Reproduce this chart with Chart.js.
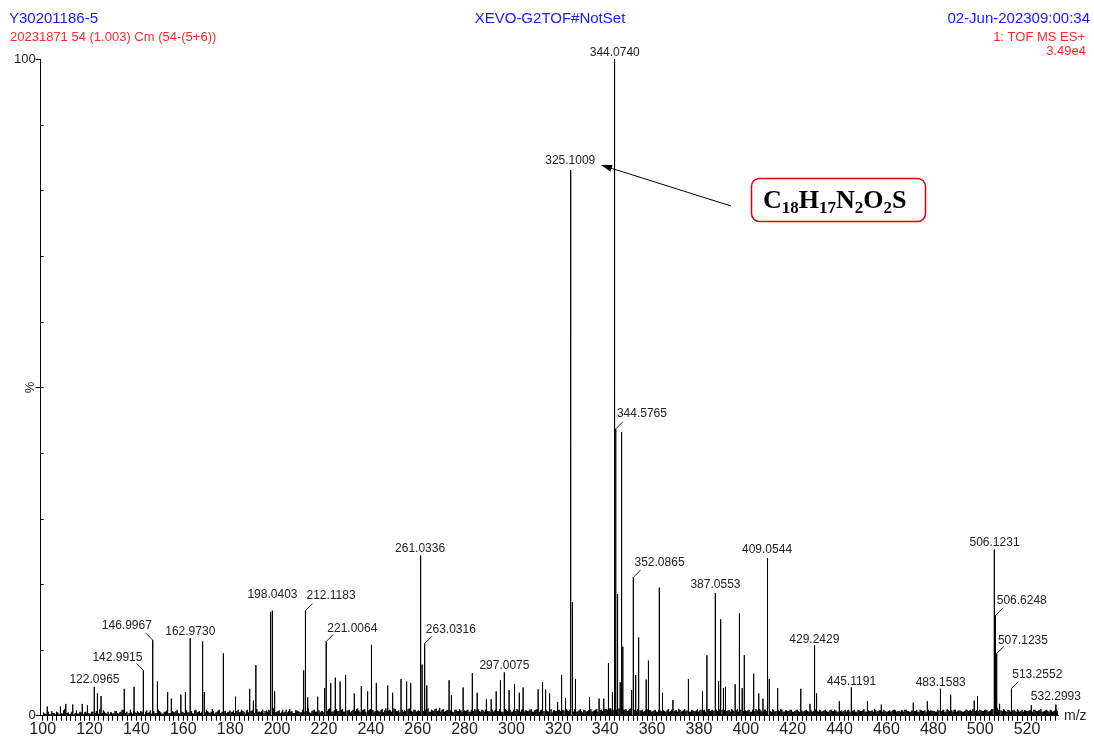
<!DOCTYPE html>
<html>
<head>
<meta charset="utf-8">
<script src="https://cdn.jsdelivr.net/npm/chart.js@4.4.1/dist/chart.umd.min.js"></script>
<style>
  html, body { margin: 0; padding: 0; background: #fff; }
  #wrap { width: 1094px; height: 738px; position: relative; }
</style>
</head>
<body>
<div id="wrap"><canvas id="msChart"></canvas></div>
<script>
// labelled peaks (m/z, relative intensity %)
const labeledMz = [122.0965, 142.9915, 146.9967, 162.9730, 198.0403, 212.1183, 221.0064, 261.0336,
    263.0316, 297.0075, 325.1009, 344.0740, 344.5765, 352.0865, 387.0553, 409.0544,
    429.2429, 445.1191, 483.1583, 506.1231, 506.6248, 507.1235, 513.2552, 532.2993];
const labeledInt = [4.4, 6.9, 11.5, 11.8, 16.0, 16.0, 11.3, 24.4,
    11.0, 6.6, 83.1, 100, 43.7, 21.1, 18.7, 24.0,
    10.7, 4.3, 4.1, 25.3, 15.3, 9.5, 4.1, 1.7];

// unlabelled peaks
const minorMz = [102.0, 107.7, 109.8, 112.7, 116.9, 119.1, 123.3, 124.9, 134.7, 139.0, 149.0, 153.2,
    154.9, 159.0, 160.9, 168.0, 169.0, 177.1, 182.1, 188.2, 189.9, 191.0, 197.0, 199.0,
    211.3, 213.2, 217.2, 220.1, 222.9, 224.8, 226.9, 229.0, 233.0, 236.0, 238.8, 240.1,
    242.3, 247.2, 249.2, 252.9, 255.1, 257.1, 261.9, 263.9, 273.4, 274.4, 279.4, 283.2,
    285.4, 289.2, 291.3, 293.5, 295.2, 299.0, 301.2, 303.3, 305.0, 311.4, 313.1, 314.7,
    316.1, 319.7, 321.4, 323.2, 326.1, 327.2, 333.2, 337.4, 339.4, 341.4, 343.1, 345.1,
    346.4, 347.07, 347.6, 351.1, 353.1, 354.1, 357.5, 358.5, 363.1, 364.5, 368.9, 375.6,
    381.6, 383.4, 388.4, 389.1, 390.5, 391.2, 395.5, 397.1, 398.5, 399.3, 403.3, 405.6,
    407.3, 410.1, 413.7, 423.5, 427.4, 430.2, 439.9, 451.9, 457.7, 471.5, 477.5, 487.4,
    497.5, 498.8, 508.1, 521.7];
const minorInt = [1.4, 1.4, 1.8, 1.7, 1.8, 1.6, 3.4, 3.0, 4.1, 4.4, 5.2, 3.6,
    2.6, 3.2, 3.6, 11.3, 3.6, 9.5, 2.9, 4.1, 2.3, 7.7, 15.8, 3.7,
    6.9, 2.8, 2.9, 4.2, 5.0, 5.8, 5.2, 6.2, 3.4, 4.5, 3.7, 10.8,
    5.0, 4.6, 3.5, 5.6, 5.2, 5.0, 7.8, 4.6, 5.4, 3.1, 4.3, 6.5,
    3.5, 2.5, 2.5, 3.7, 5.4, 3.9, 4.8, 3.5, 4.3, 4.0, 5.1, 4.0,
    3.4, 2.1, 6.2, 2.7, 17.3, 5.6, 2.8, 2.6, 2.6, 8.0, 3.6, 18.5,
    5.1, 43.2, 10.5, 3.9, 6.2, 11.9, 5.5, 8.4, 19.5, 3.5, 2.4, 5.6,
    3.7, 9.2, 5.3, 14.7, 4.2, 4.4, 4.8, 15.6, 4.2, 9.2, 6.4, 3.4,
    2.6, 5.6, 4.2, 4.1, 1.8, 3.4, 2.2, 2.2, 1.7, 2.0, 2.2, 3.2,
    2.3, 3.0, 1.8, 1.6];

// baseline noise, two sticks per m/z unit (A at +0.4, B at +0.9), in tenths of a percent
const noiseStartA = 100.4;
const noiseA = [
    5,3,6,2,4,2,5,9,3,10,4,2,6,2,8,3,5,2,6,4,
    3,6,4,5,10,4,6,3,2,5,4,7,3,6,8,4,2,9,3,5,
    7,4,6,2,8,5,3,7,4,9,5,3,6,10,4,7,5,9,3,6,
    4,8,5,7,3,9,6,4,8,5,7,4,10,3,6,9,5,7,4,6,
    5,8,4,9,6,7,3,9,5,8,4,10,6,7,4,8,9,6,11,5,
    7,4,9,6,5,10,7,4,8,6,5,9,7,11,4,8,6,12,5,7,
    9,7,11,6,8,10,7,9,6,10,8,5,9,7,11,6,8,10,7,9,
    8,6,10,7,9,5,11,7,8,6,10,7,5,9,8,6,11,7,9,6,
    8,10,7,9,11,6,8,10,7,12,9,6,8,7,10,5,9,7,8,6,
    7,9,6,8,10,5,7,9,6,8,7,10,6,9,7,8,6,10,7,9,
    6,8,10,7,9,5,8,7,10,6,9,7,8,6,10,7,9,5,8,7,
    9,6,8,10,7,9,6,8,7,10,5,8,7,9,6,8,10,7,9,8,
    10,8,11,9,12,10,8,11,9,7,10,8,9,7,10,8,6,9,7,8,
    7,9,6,8,10,7,8,6,9,7,8,10,6,8,7,9,6,8,7,10,
    8,7,9,6,10,8,7,9,11,8,7,10,8,6,9,7,10,8,6,9,
    7,9,6,8,10,7,8,6,9,8,7,10,6,8,7,9,6,8,7,9,
    6,8,7,9,6,8,7,10,6,8,7,9,6,8,7,6,9,7,8,6,
    7,6,9,8,6,7,9,6,8,7,10,6,8,7,6,9,7,8,6,7,
    6,8,7,9,6,7,8,6,9,7,6,8,7,6,9,7,8,6,7,8,
    7,6,8,7,9,6,8,7,6,9,7,8,6,7,9,8,7,10,8,7,
    8,7,9,6,8,10,9,11,8,7,9,6,8,7,9,6,8,7,6,8,
    7,8,6,9,7,8,6,7,9,6,8,7,9,6];
const noiseStartB = 100.9;
const noiseB = [
    3,5,2,7,4,6,3,4,8,2,5,3,7,4,3,6,2,5,4,3,
    6,4,7,3,5,8,4,6,5,3,7,4,5,9,3,6,4,5,7,4,
    5,7,3,6,4,8,6,4,5,7,3,6,8,4,5,6,7,4,6,5,
    7,5,6,4,8,5,7,6,4,9,5,6,7,5,8,4,6,7,5,8,
    6,4,7,5,9,6,8,5,7,4,8,6,5,9,7,6,8,5,7,6,
    8,6,5,9,7,6,4,8,7,5,9,6,8,5,7,9,6,8,7,5,
    7,10,8,6,9,7,8,10,6,8,9,7,6,10,8,7,9,6,8,10,
    9,7,8,6,10,8,7,9,6,11,7,8,9,6,7,10,8,6,9,7,
    7,9,10,8,6,9,7,11,8,6,10,7,9,8,6,9,7,10,6,8,
    8,6,9,7,8,10,6,8,9,7,6,9,8,7,10,6,9,8,7,6,
    9,7,8,6,10,8,7,9,6,8,10,6,9,7,8,6,10,8,7,9,
    7,9,6,8,9,7,10,6,8,7,9,6,8,10,7,9,6,8,7,10,
    9,11,8,10,9,11,12,9,10,8,11,9,7,10,8,9,7,10,8,6,
    8,6,9,7,8,6,10,7,9,8,6,9,7,10,8,6,9,7,8,6,
    9,8,6,10,7,9,8,7,10,9,8,7,9,10,7,8,6,9,7,8,
    8,6,9,7,8,10,6,9,7,8,6,9,7,8,10,6,8,7,9,6,
    7,9,6,8,7,9,6,8,7,10,6,8,7,9,6,8,7,9,6,8,
    8,7,6,9,7,8,6,9,7,8,6,9,7,8,10,6,8,7,9,6,
    7,6,9,8,7,6,8,9,7,6,8,7,9,6,8,7,6,9,8,7,
    6,9,7,8,6,10,7,8,9,6,8,7,6,9,7,8,10,7,6,9,
    7,9,8,7,10,6,12,9,8,10,7,9,6,8,7,10,6,9,8,7,
    8,6,9,7,8,10,6,8,7,9,6,8,7,9];

// header texts
const sampleName = 'Y30201186-5';
const instrument = 'XEVO-G2TOF#NotSet';
const dateTime = '02-Jun-202309:00:34';
const scanInfo = '20231871 54 (1.003) Cm (54-(5+6))';
const functionInfo = '1: TOF MS ES+';
const maxIntensity = '3.49e4';
const formulaParts = [['C', 0], ['18', 1], ['H', 0], ['17', 1], ['N', 0], ['2', 1], ['O', 0], ['2', 1], ['S', 0]];

// label placement: c = centred above, r = leader to the right, l = leader to the left
const labelSide = ['c','l','l','c','c','r','r','c','r','c','c','c','r','r','c','c','c','c','c','c','r','r','r','c'];
const labelLift = [7,13,15,7,16,15,13,7,14,7,9,6,15,14,8,8,6,6,6,7,15,13,14,8];

// build stick spectrum
const sticks = [];
labeledMz.forEach((m, i) => sticks.push([m, labeledInt[i]]));
minorMz.forEach((m, i) => sticks.push([m, minorInt[i]]));
noiseA.forEach((h, i) => sticks.push([noiseStartA + i, h / 10]));
noiseB.forEach((h, i) => sticks.push([noiseStartB + i, h / 10]));
sticks.sort((a, b) => a[0] - b[0]);
const spectrum = [];
sticks.forEach(([m, h]) => {
    spectrum.push({x: m, y: 0}, {x: m, y: h}, {x: m, y: 0});
});

const BLUE = '#1a1aff';
const RED = '#ff2626';
const TXT = '#222';
const sans = "'Liberation Sans', Arial, sans-serif";

const decorPlugin = {
    id: 'decor',
    afterDraw(chart) {
        const ctx = chart.ctx;
        const xs = chart.scales.x, ys = chart.scales.y;
        const area = chart.chartArea;
        ctx.save();

        // header
        ctx.textBaseline = 'middle';
        ctx.font = '15px ' + sans;
        ctx.fillStyle = BLUE;
        ctx.textAlign = 'left';
        ctx.fillText(sampleName, 9, 19);
        ctx.textAlign = 'center';
        ctx.fillText(instrument, 550, 19);
        ctx.textAlign = 'right';
        ctx.fillText(dateTime, 1090, 19);
        ctx.font = '13px ' + sans;
        ctx.fillStyle = RED;
        ctx.textAlign = 'left';
        ctx.fillText(scanInfo, 10, 37);
        ctx.textAlign = 'right';
        ctx.fillText(functionInfo, 1085, 37);
        ctx.fillText(maxIntensity, 1086, 51);

        // inner minor ticks on y axis
        ctx.strokeStyle = '#000';
        ctx.lineWidth = 1;
        for (let v = 10; v < 100; v += 10) {
            const y = Math.round(ys.getPixelForValue(v)) + 0.5;
            ctx.beginPath();
            ctx.moveTo(area.left, y);
            ctx.lineTo(area.left + 3, y);
            ctx.stroke();
        }

        // axis captions
        ctx.fillStyle = TXT;
        ctx.font = '13px ' + sans;
        ctx.save();
        ctx.translate(30, ys.getPixelForValue(50));
        ctx.rotate(-Math.PI / 2);
        ctx.textAlign = 'center';
        ctx.fillText('%', 0, 0);
        ctx.restore();
        ctx.textAlign = 'left';
        ctx.font = '14px ' + sans;
        ctx.fillText('m/z', area.right + 6, area.bottom);

        // peak labels
        ctx.font = '12px ' + sans;
        ctx.fillStyle = TXT;
        ctx.strokeStyle = '#222';
        labeledMz.forEach((m, i) => {
            const px = xs.getPixelForValue(m);
            const py = ys.getPixelForValue(labeledInt[i]);
            const text = m.toFixed(4);
            const side = labelSide[i];
            const lift = labelLift[i];
            if (side === 'c') {
                ctx.textAlign = 'center';
                ctx.fillText(text, px, py - lift);
            } else {
                const dir = side === 'r' ? 1 : -1;
                ctx.beginPath();
                ctx.moveTo(px, py);
                ctx.lineTo(px + dir * 7, py - 7);
                ctx.stroke();
                ctx.textAlign = side === 'r' ? 'left' : 'right';
                ctx.fillText(text, px + dir, py - lift);
            }
        });

        // formula box with arrow to the 325 peak label
        ctx.strokeStyle = '#e00000';
        ctx.lineWidth = 1.5;
        ctx.beginPath();
        ctx.roundRect(751.5, 178.5, 174, 43, 8);
        ctx.stroke();
        ctx.fillStyle = '#000';
        ctx.textAlign = 'left';
        ctx.textBaseline = 'alphabetic';
        let fx = 763;
        formulaParts.forEach(([t, sub]) => {
            ctx.font = sub ? "bold 17px 'Liberation Serif', 'Times New Roman', serif"
                           : "bold 26px 'Liberation Serif', 'Times New Roman', serif";
            ctx.fillText(t, fx, sub ? 213 : 208);
            fx += ctx.measureText(t).width;
        });

        const ax0 = 731, ay0 = 206, ax1 = 601, ay1 = 165;
        const ang = Math.atan2(ay1 - ay0, ax1 - ax0);
        ctx.strokeStyle = '#000';
        ctx.lineWidth = 1;
        ctx.beginPath();
        ctx.moveTo(ax0, ay0);
        ctx.lineTo(ax1 - 8 * Math.cos(ang), ay1 - 8 * Math.sin(ang));
        ctx.stroke();
        ctx.beginPath();
        ctx.moveTo(ax1, ay1);
        ctx.lineTo(ax1 - 11 * Math.cos(ang) + 3.5 * Math.sin(ang), ay1 - 11 * Math.sin(ang) - 3.5 * Math.cos(ang));
        ctx.lineTo(ax1 - 11 * Math.cos(ang) - 3.5 * Math.sin(ang), ay1 - 11 * Math.sin(ang) + 3.5 * Math.cos(ang));
        ctx.closePath();
        ctx.fill();

        ctx.restore();
    }
};

const bigTicks = [0, 50, 100];

new Chart(document.getElementById('msChart').getContext('2d'), {
    type: 'line',
    data: {
        datasets: [{
            data: spectrum,
            borderColor: '#000',
            borderWidth: 1,
            borderJoinStyle: 'bevel',
            pointRadius: 0,
            tension: 0,
            fill: false
        }]
    },
    options: {
        responsive: true,
        maintainAspectRatio: false,
        animation: false,
        events: [],
        layout: { padding: { top: 59, left: 14, right: 36, bottom: 0 } },
        plugins: { legend: { display: false }, tooltip: { enabled: false } },
        scales: {
            x: {
                type: 'linear',
                min: 99.15,
                max: 533.2,
                border: { display: true, color: '#000', width: 1 },
                grid: { drawOnChartArea: false, drawTicks: true, tickLength: 5, color: '#000' },
                ticks: {
                    stepSize: 2,
                    includeBounds: false,
                    autoSkip: false,
                    maxRotation: 0,
                    padding: 0,
                    color: TXT,
                    font: { family: sans, size: 16, lineHeight: 1.08 },
                    callback: v => {
                        const r = Math.round(v);
                        return (Math.abs(v - r) < 1e-6 && r % 20 === 0) ? String(r) : '';
                    }
                }
            },
            y: {
                min: 0,
                max: 100,
                border: { display: true, color: '#000', width: 1 },
                grid: {
                    drawOnChartArea: false,
                    drawTicks: true,
                    tickLength: 5,
                    color: c => bigTicks.includes(c.tick && c.tick.value) ? '#000' : 'rgba(0,0,0,0)'
                },
                ticks: {
                    stepSize: 10,
                    padding: 0,
                    color: TXT,
                    font: { family: sans, size: 13 },
                    callback: v => (v === 100 ? '100' : v === 0 ? '0' : '')
                }
            }
        }
    },
    plugins: [decorPlugin]
});
</script>
</body>
</html>
